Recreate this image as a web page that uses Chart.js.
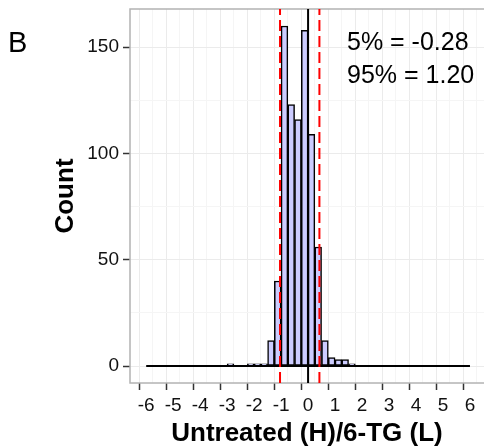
<!DOCTYPE html>
<html>
<head>
<meta charset="utf-8">
<script src="https://cdn.jsdelivr.net/npm/chart.js@4.4.0/dist/chart.umd.min.js"></script>
<style>
  html, body { margin: 0; padding: 0; background: #fff; overflow: hidden; }
  canvas { display: block; }
</style>
</head>
<body>
<canvas id="histChart" width="484" height="448"></canvas>
<script>
// histogram data (bin width 0.25, bins)
const binWidth = 0.25;
const binStarts = [-3, -2.25, -2, -1.75, -1.5, -1.25, -1, -0.75, -0.5, -0.25, 0, 0.25, 0.5, 0.75, 1, 1.25, 1.5];
const counts = [1, 1, 1, 1, 12, 40, 160, 123, 116, 158, 109, 56, 12, 4, 3, 3, 1];
const histRange = [-6, 6];

// reference lines
const quantileLines = [-1.04, 0.42];
const zeroLine = 0;
const quantileLabels = ['5% = -0.28', '95% = 1.20'];

const xTicks = [-6, -5, -4, -3, -2, -1, 0, 1, 2, 3, 4, 5, 6];
const yTicks = [0, 50, 100, 150];

const yMin = -8, yMax = 168;
const fontFamily = '"Liberation Sans", Arial, sans-serif';

function vline(x) {
    return [{ x: x, y: yMin }, { x: x, y: yMax }];
}

function tickVal(c) {
    return c && c.tick ? c.tick.value : NaN;
}

function noPad(scale) {
    scale.paddingTop = 0;
    scale.paddingBottom = 0;
    scale.paddingLeft = 0;
    scale.paddingRight = 0;
}

// extra text: panel letter, quantile labels, panel border
const extras = {
    id: 'extras',
    beforeDatasetsDraw(chart) {
        const { ctx, chartArea } = chart;
        ctx.save();
        ctx.strokeStyle = '#b3b3b3';
        ctx.lineWidth = 1.5;
        ctx.strokeRect(chartArea.left, chartArea.top, chartArea.right - chartArea.left + 2, chartArea.bottom - chartArea.top);
        ctx.restore();
    },
    afterDraw(chart) {
        const ctx = chart.ctx;
        ctx.save();
        ctx.fillStyle = '#000';
        ctx.textBaseline = 'alphabetic';
        ctx.textAlign = 'left';
        ctx.font = '29px ' + fontFamily;
        ctx.fillText('B', 8, 52);
        ctx.font = '25px ' + fontFamily;
        ctx.fillText(quantileLabels[0], 347, 50);
        ctx.fillText(quantileLabels[1], 347, 83);
        ctx.restore();
    }
};

const ctx = document.getElementById('histChart').getContext('2d');
const histChart = new Chart(ctx, {
    type: 'bar',
    data: {
        datasets: [
            {
                type: 'line',
                data: vline(zeroLine),
                borderColor: '#000',
                borderWidth: 2,
                pointRadius: 0,
                order: 0
            },
            {
                type: 'line',
                data: vline(quantileLines[0]),
                borderColor: '#ff0000',
                borderWidth: 2,
                borderDash: [11, 5],
                pointRadius: 0,
                order: 0
            },
            {
                type: 'line',
                data: vline(quantileLines[1]),
                borderColor: '#ff0000',
                borderWidth: 2,
                borderDash: [11, 5],
                pointRadius: 0,
                order: 0
            },
            {
                type: 'line',
                data: [{ x: histRange[0], y: 0 }, { x: histRange[1], y: 0 }],
                borderColor: '#000',
                borderWidth: 2,
                pointRadius: 0,
                order: 1
            },
            {
                type: 'bar',
                data: binStarts.map((s, i) => ({ x: s + binWidth / 2, y: counts[i] })),
                backgroundColor: '#ccccff',
                borderColor: '#000',
                borderWidth: 1.5,
                borderSkipped: false,
                barPercentage: 1,
                categoryPercentage: 1,
                order: 2
            }
        ]
    },
    options: {
        responsive: false,
        animation: false,
        layout: { padding: { top: 9, right: 0, bottom: 0, left: 0 } },
        plugins: {
            legend: { display: false },
            tooltip: { enabled: false }
        },
        scales: {
            x: {
                type: 'linear',
                min: -6.6,
                max: 6.52,
                offset: false,
                border: { display: false },
                grid: {
                    color: c => Number.isInteger(tickVal(c)) ? '#ebebeb' : '#f5f5f5',
                    lineWidth: 1,
                    tickLength: 7,
                    tickWidth: 1.5,
                    tickColor: c => xTicks.includes(tickVal(c)) ? '#333' : 'rgba(0,0,0,0)'
                },
                ticks: {
                    stepSize: 0.5,
                    includeBounds: false,
                    autoSkip: false,
                    maxRotation: 0,
                    padding: 4,
                    color: '#111',
                    font: { family: fontFamily, size: 19 },
                    callback: v => xTicks.includes(v) ? String(v) : ''
                },
                title: {
                    display: true,
                    text: 'Untreated (H)/6-TG (L)',
                    color: '#000',
                    font: { family: fontFamily, size: 26, weight: 'bold', lineHeight: 1 },
                    padding: { top: 0, bottom: 1 }
                },
                afterFit: scale => { scale.height = 65; noPad(scale); }
            },
            y: {
                min: yMin,
                max: yMax,
                border: { display: false },
                grid: {
                    color: c => yTicks.includes(tickVal(c)) ? '#ebebeb' : '#f5f5f5',
                    lineWidth: 1,
                    tickLength: 7,
                    tickWidth: 1.5,
                    tickColor: c => yTicks.includes(tickVal(c)) ? '#333' : 'rgba(0,0,0,0)'
                },
                ticks: {
                    stepSize: 25,
                    includeBounds: false,
                    padding: 4,
                    color: '#111',
                    font: { family: fontFamily, size: 19 },
                    callback: v => yTicks.includes(v) ? String(v) : ''
                },
                title: {
                    display: true,
                    text: 'Count',
                    color: '#000',
                    font: { family: fontFamily, size: 26, weight: 'bold', lineHeight: 1 },
                    padding: { top: 53, bottom: 0 }
                },
                afterFit: scale => { scale.width = 130; noPad(scale); }
            }
        }
    },
    plugins: [extras]
});
</script>
</body>
</html>
